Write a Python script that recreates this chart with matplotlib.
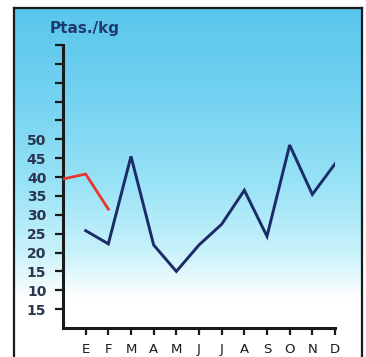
import numpy as np
import matplotlib
matplotlib.use("Agg")
import matplotlib.pyplot as plt
from matplotlib.colors import LinearSegmentedColormap

# ---- data ----
months = ["E", "F", "M", "A", "M", "J", "J", "A", "S", "O", "N", "D"]
blue_values = [25.8, 22.3, 45.5, 22.0, 15.0, 22.0, 27.5, 36.5, 24.3, 48.5, 35.4, 43.5]
red_x = [-1, 0, 1]
red_values = [39.5, 40.8, 31.5]
ytick_values = [5, 10, 15, 20, 25, 30, 35, 40, 45, 50, 55, 60, 65, 70, 75]
ytick_labels = ["15", "10", "15", "20", "25", "30", "35", "40", "45", "50", "", "", "", "", ""]
ylabel_text = "Ptas./kg"

W, H = 366, 357
fig = plt.figure(figsize=(W / 100, H / 100), dpi=100)
fig.patch.set_facecolor("white")

# ---- background frame with vertical gradient ----
fl, ft, fr = 14, 8, 362
bg = fig.add_axes([fl / W, 0, (fr - fl) / W, (H - ft) / H])
grad_cmap = LinearSegmentedColormap.from_list(
    "g", [(0.0, "#ffffff"), (0.17, "#ffffff"), (0.30, "#c8f2fa"),
          (0.50, "#98e2f6"), (0.75, "#72d2f1"), (1.0, "#5ac6ec")])
g = np.linspace(0, 1, 256).reshape(-1, 1)
bg.imshow(g, aspect="auto", cmap=grad_cmap, origin="lower", extent=[0, 1, 0, 1])
bg.set_xlim(0, 1)
bg.set_ylim(0, 1)
bg.set_xticks([])
bg.set_yticks([])
for s in ["left", "top", "right"]:
    bg.spines[s].set_linewidth(1.6)
    bg.spines[s].set_color("#1a1a1a")
bg.spines["bottom"].set_visible(False)

# ---- main axes ----
ax_l, ax_r, ax_t, ax_b = 63, 335, 45, 328
ax = fig.add_axes([ax_l / W, 1 - ax_b / H, (ax_r - ax_l) / W, (ax_b - ax_t) / H])
ax.patch.set_alpha(0)
ax.set_xlim(-1, 11)
ax.set_ylim(0, 75)

ax.plot(range(len(months)), blue_values, color="#1b2a68", lw=2.1,
        solid_joinstyle="miter", zorder=3)
ax.plot(red_x, red_values, color="#e8362c", lw=2.0, zorder=3)

for s in ["top", "right"]:
    ax.spines[s].set_visible(False)
for s in ["left", "bottom"]:
    ax.spines[s].set_linewidth(2.2)
    ax.spines[s].set_color("#1a1a1a")

ax.set_xticks(range(len(months)))
ax.set_xticklabels(months)
ax.set_yticks(ytick_values)
ax.set_yticklabels(ytick_labels)
ax.tick_params(axis="x", direction="out", length=5, width=1.6, color="#1a1a1a",
               labelsize=9.5, labelcolor="#1a1a1a", pad=6)
ax.tick_params(axis="y", direction="out", length=6, width=1.6, color="#1a1a1a",
               labelsize=10, labelcolor="#2b3550", pad=6)
for lab in ax.get_yticklabels():
    lab.set_fontweight("semibold")

fig.text(50 / W, 1 - 28 / H, ylabel_text, fontsize=11, fontweight="semibold",
         color="#1f3a6e", ha="left", va="center")

fig.savefig("out.png", dpi=100)
